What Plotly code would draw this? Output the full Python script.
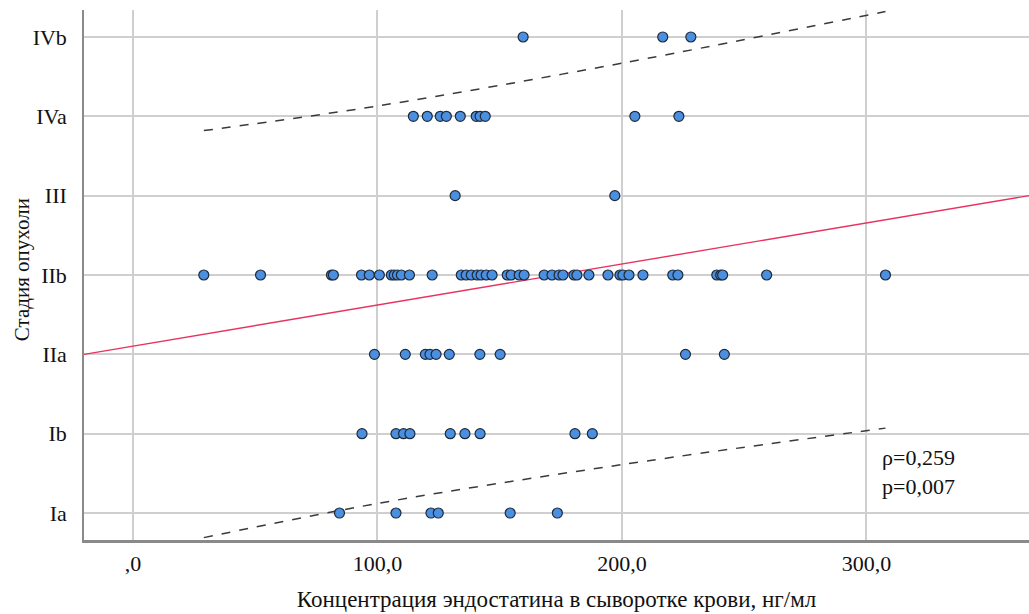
import plotly.graph_objects as go

# ---- data ----
stage_labels = ["Ia", "Ib", "IIa", "IIb", "III", "IVa", "IVb"]
stage_pos = [1, 2, 3, 4, 5, 6, 7]

ia_vals = [84.5, 107.6, 121.9, 124.9, 154.3, 173.6]
ib_vals = [93.7, 107.6, 110.7, 113.3, 129.8, 135.8, 142.0, 180.8, 187.9]
iia_vals = [98.8, 111.4, 119.6, 121.5, 124.0, 129.4, 141.9, 150.2, 226.0, 241.9]
iib_vals = [29.0, 52.2, 81.2, 82.0, 93.5, 96.7, 100.8, 105.7, 106.9, 108.2, 109.8,
            113.1, 122.4, 134.3, 136.3, 138.4, 140.8, 142.4, 144.5, 146.9, 153.1,
            154.7, 158.0, 160.0, 168.2, 171.4, 174.3, 175.9, 180.4, 181.6, 186.5,
            194.3, 199.2, 200.4, 202.9, 208.6, 220.8, 222.9, 238.8, 240.4, 241.2,
            259.2, 307.8]
iii_vals = [131.8, 197.1]
iva_vals = [114.7, 120.4, 125.7, 128.2, 133.9, 140.4, 142.0, 144.1, 205.3, 223.3]
ivb_vals = [159.6, 216.7, 228.2]

fit_x = [-20.0, 366.5]
fit_y = [3.0, 5.0]

band_x = [29.0, 100.0, 200.0, 307.8]
band_upper = [5.82, 6.13, 6.67, 7.32]
band_lower = [0.69, 1.12, 1.61, 2.07]

x_ticks = [0, 100, 200, 300]
x_tick_text = [",0", "100,0", "200,0", "300,0"]

groups = [ia_vals, ib_vals, iia_vals, iib_vals, iii_vals, iva_vals, ivb_vals]

xs, ys = [], []
for pos, vals in zip(stage_pos, groups):
    xs.extend(vals)
    ys.extend([pos] * len(vals))

FONT = "Liberation Serif"

fig = go.Figure()

fig.add_trace(go.Scatter(
    x=band_x, y=band_upper, mode="lines", line_shape="spline",
    line=dict(color="#3a3a3a", width=1.5, dash="dash"), hoverinfo="skip"))
fig.add_trace(go.Scatter(
    x=band_x, y=band_lower, mode="lines", line_shape="spline",
    line=dict(color="#3a3a3a", width=1.5, dash="dash"), hoverinfo="skip"))
fig.add_trace(go.Scatter(
    x=fit_x, y=fit_y, mode="lines",
    line=dict(color="#e8335f", width=1.4), hoverinfo="skip"))
fig.add_trace(go.Scatter(
    x=xs, y=ys, mode="markers",
    marker=dict(size=10, color="#4a8fe0", line=dict(color="#1e2a3a", width=1.2))))

fig.add_annotation(
    x=0.842, y=0.128, xref="paper", yref="paper", xanchor="left", yanchor="middle",
    align="left", showarrow=False,
    text="ρ=0,259<br>p=0,007",
    font=dict(family=FONT, size=22, color="#111111"))

# y-axis title placed as rotated text
fig.add_annotation(
    x=-0.0656, y=0.509, xref="paper", yref="paper", xanchor="center", yanchor="middle",
    textangle=-90, showarrow=False,
    text="Стадия опухоли",
    font=dict(family=FONT, size=21, color="#111111"))

fig.update_layout(
    width=1029, height=614,
    margin=dict(l=84, r=0, t=10, b=74, autoexpand=False),
    paper_bgcolor="white", plot_bgcolor="white",
    showlegend=False,
    font=dict(family=FONT, size=22, color="#111111"),
    xaxis=dict(
        range=[-20, 366.5], tickvals=x_ticks, ticktext=x_tick_text,
        showgrid=True, gridcolor="#cfcfcf", gridwidth=1.5,
        zeroline=False, showline=True, linecolor="#8a8a8a", linewidth=2.5,
        ticks="", ticklabelstandoff=2, tickfont=dict(family=FONT, size=22),
        automargin=False,
        title=dict(text="Концентрация эндостатина в сыворотке крови, нг/мл",
                   font=dict(family=FONT, size=23), standoff=16)),
    yaxis=dict(
        range=[0.66, 7.34], tickvals=stage_pos, ticktext=stage_labels,
        showgrid=True, gridcolor="#cfcfcf", gridwidth=1.5,
        zeroline=False, showline=True, linecolor="#8a8a8a", linewidth=1.5,
        ticks="", ticklabelstandoff=11, tickfont=dict(family=FONT, size=22),
        automargin=False),
)

fig.write_html(
    "out.html",
    config={"displayModeBar": False},
    post_script="document.body.style.margin='0';document.body.style.overflow='hidden';",
)
